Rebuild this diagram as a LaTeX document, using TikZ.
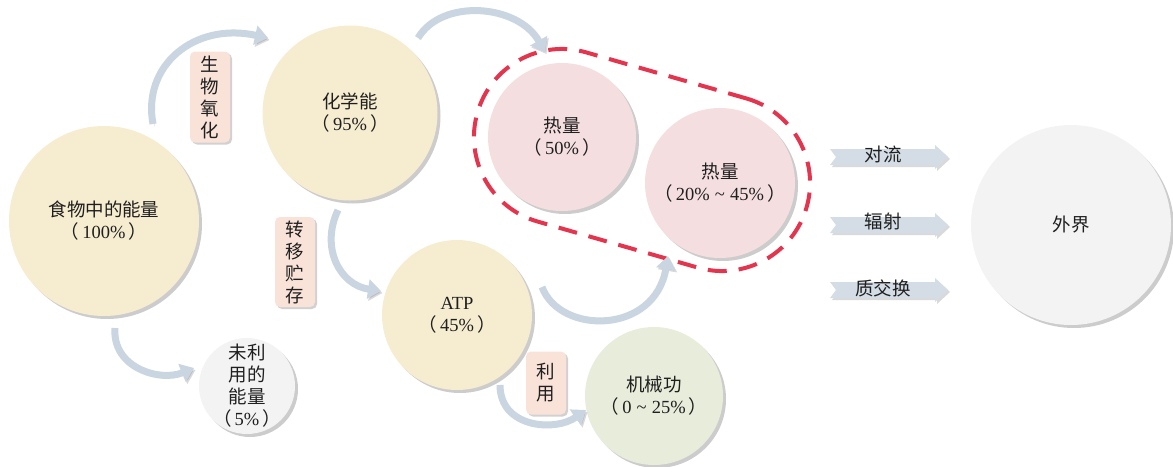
\documentclass[tikz,border=0pt]{standalone}
\usepackage{fontspec}
\setmainfont{Liberation Serif}
\newfontfamily\cjk{Noto Sans CJK SC}
\usetikzlibrary{arrows.meta,shadows,calc}
\newcommand\zhs[1]{{\cjk #1}}
\newcommand\lp{\zhs{（}\,}
\newcommand\rp{\,\zhs{）}}
\newcommand\tld{\;\textasciitilde\;}
\definecolor{yel}{HTML}{F6ECD0}
\definecolor{pnk}{HTML}{F5DEE0}
\definecolor{grn}{HTML}{E7ECDB}
\definecolor{gry}{HTML}{F3F3F3}
\definecolor{tagc}{HTML}{F9E3D9}
\definecolor{flowc}{HTML}{C9D5E0}
\definecolor{redd}{HTML}{E4354F}
\tikzset{
  blockarrow/.pic={
    \fill[black, opacity=0.15] (-51,-6) -- (54,-6) -- (54,-10) -- (67,2) -- (54,14) -- (54,10) -- (-51,10) -- (-45,2) -- cycle;
    \fill[flowc!80!white] (-53,-8) -- (52,-8) -- (52,-12) -- (65,0) -- (52,12) -- (52,8) -- (-53,8) -- (-47,0) -- cycle;
  }
}
\begin{document}
\begin{tikzpicture}[x=1pt,y=-1pt,
  every node/.style={font=\fontsize{18.5}{22}\selectfont, text=black!88, align=center},
  bubble/.style={circle, inner sep=0pt, drop shadow={shadow xshift=3pt, shadow yshift=-3pt, opacity=0.2, fill=black}},
  tagbox/.style={rectangle, rounded corners=5pt, fill=tagc, inner sep=0pt, minimum width=40pt, drop shadow={shadow xshift=2pt, shadow yshift=-2pt, opacity=0.18, fill=black}},
  flow/.style={draw=flowc, line width=7pt, -{Triangle[width=19pt,length=13pt]},
    preaction={draw=black, opacity=0.15, transform canvas={shift={(1.5pt,-2pt)}}}},
  dashgrp/.style={draw=redd, line width=4pt, dash pattern=on 19pt off 12pt, rectangle, rounded corners=87.9pt, inner sep=0pt}
]
\useasboundingbox (0,0) rectangle (1173,466);

% circles
\node[bubble, fill=yel, minimum size=190pt] (food) at (104,221) {\zhs{食物中的能量}\\\lp 100\%\rp};
\node[bubble, fill=yel, minimum size=175pt] (chem) at (350,113) {\zhs{化学能}\\\lp 95\%\rp};
\node[bubble, fill=pnk, minimum size=148pt] (heatA) at (562,137) {\zhs{热量}\\\lp 50\%\rp};
\node[bubble, fill=pnk, minimum size=150pt] (heatB) at (720,183) {\zhs{热量}\\\lp 20\%\tld 45\%\rp};
\node[bubble, fill=yel, minimum size=150pt] (atp) at (457,315) {ATP\\\lp 45\%\rp};
\node[bubble, fill=grn, minimum size=138pt] (work) at (654,396) {\zhs{机械功}\\\lp 0\tld 25\%\rp};
\node[bubble, fill=gry, minimum size=200pt] (env) at (1071,225) {\zhs{外界}};
\node[bubble, fill=gry, minimum size=96pt] (unused) at (247,386) {};
\node (unusedtext) at (unused.center) {\zhs{未利}\\\zhs{用的}\\\zhs{能量}\\\lp 5\%\rp};

% dashed group
\node[dashgrp, minimum width=342.5pt, minimum height=176pt, rotate=-16.04] (grp) at (642,160) {};

% curved connectors
\coordinate (f1s) at (153,124); \coordinate (f1e) at (268,38);
\coordinate (f2s) at (418,38);  \coordinate (f2e) at (545,52);
\coordinate (f3s) at (338,210); \coordinate (f3e) at (381,291);
\coordinate (f4s) at (542,287); \coordinate (f4e) at (668,256);
\coordinate (f5s) at (500,385); \coordinate (f5e) at (586,410);
\coordinate (f6s) at (115,328); \coordinate (f6e) at (194,368);
\draw[flow] (f1s) .. controls (142,65) and (195,22) .. (f1e);
\draw[flow] (f2s) .. controls (442,-2) and (518,4) .. (f2e);
\draw[flow] (f3s) .. controls (320,248) and (340,285) .. (f3e);
\draw[flow] (f4s) .. controls (560,335) and (655,335) .. (f4e);
\draw[flow] (f5s) .. controls (500,428) and (555,432) .. (f5e);
\draw[flow] (f6s) .. controls (112,368) and (160,382) .. (f6e);

% labels
\node[tagbox, minimum height=91pt] (oxid) at (210,97) {\zhs{生}\\\zhs{物}\\\zhs{氧}\\\zhs{化}};
\node[tagbox, minimum height=90pt] (store) at (295,262) {\zhs{转}\\\zhs{移}\\\zhs{贮}\\\zhs{存}};
\node[tagbox, minimum height=63pt] (use) at (546,383) {\zhs{利}\\\zhs{用}};

% outward block arrows
\pic at (883,157) {blockarrow};
\pic at (883,225) {blockarrow};
\pic at (883,290) {blockarrow};
\node (conv) at (883,154) {\zhs{对流}};
\node (rad) at (883,221) {\zhs{辐射}};
\node (mat) at (883,288) {\zhs{质交换}};
\end{tikzpicture}
\end{document}
